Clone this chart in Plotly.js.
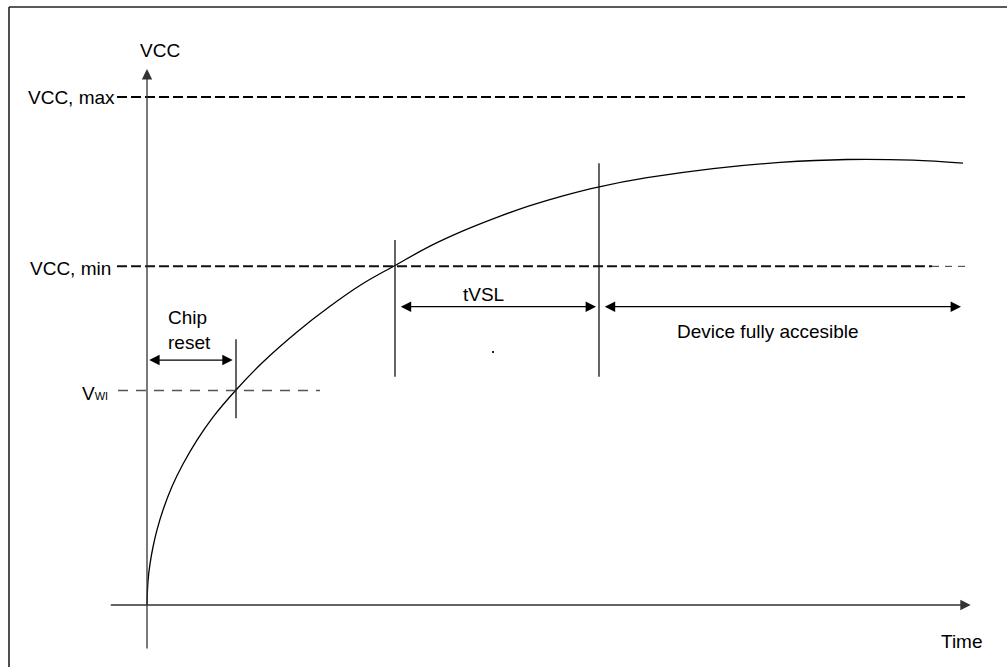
<!DOCTYPE html>
<html>
<head>
<meta charset="utf-8">
<script src="https://cdn.plot.ly/plotly-3.0.1.min.js"></script>
<style>html,body{margin:0;padding:0;background:#fff;}#chart{width:1007px;height:667px;}</style>
</head>
<body>
<div id="chart"></div>
<script>
// ---- data (time in arbitrary units, voltage in V) ----
const V_MAX = 3.6;
const V_MIN = 2.4;
const V_WI = 1.52;
const T_RESET = 0.89;
const T_VMIN = 2.48;
const T_FULL = 4.52;
const T_END = 8.14;

const curveT = [0, 0.01, 0.03, 0.06, 0.10, 0.16, 0.25, 0.36, 0.50, 0.66, 0.89, 1.16, 1.50, 1.83, 2.16, 2.48, 2.83, 3.16, 3.50, 3.83, 4.16, 4.51, 5.00, 5.66, 6.33, 7.00, 7.66, 8.16];
const curveV = [0, 0.169, 0.291, 0.411, 0.532, 0.673, 0.840, 0.999, 1.169, 1.332, 1.524, 1.722, 1.935, 2.117, 2.278, 2.406, 2.543, 2.651, 2.747, 2.830, 2.900, 2.962, 3.028, 3.093, 3.136, 3.157, 3.152, 3.131];

const levelLabels = ['VCC, max', 'VCC, min', 'V<span style="font-size:11px">WI</span>'];
const spanLabels = ['Chip<br>reset', 'tVSL', 'Device fully accesible'];
const axisLabels = ['VCC', 'Time'];
const dotT = [3.46];
const dotV = [1.793];

// ---- drawing ----
const FONT = {family: '"Liberation Sans", Arial, sans-serif', size: 19, color: '#000'};
const AX = '#333';

const traces = [
  {x: curveT, y: curveV, mode: 'lines', line: {color: '#000', width: 1.3, shape: 'spline', smoothing: 1}, hoverinfo: 'skip'},
  {x: dotT, y: dotV, mode: 'markers', marker: {symbol: 'square', size: 2, color: '#222'}, hoverinfo: 'skip'}
];

function hline(x0, x1, y, color, width, dash) {
  return {type: 'line', xref: 'x', yref: 'y', x0: x0, x1: x1, y0: y, y1: y, line: {color: color, width: width, dash: dash}};
}
function vline(x, y0, y1, color, width) {
  return {type: 'line', xref: 'x', yref: 'y', x0: x, x1: x, y0: y0, y1: y1, line: {color: color, width: width}};
}

const shapes = [
  // frame (left + top edges)
  {type: 'line', xref: 'paper', yref: 'paper', x0: 9/1007, x1: 9/1007, y0: 0, y1: 1 - 7/667, line: {color: '#222', width: 1.6}},
  {type: 'line', xref: 'paper', yref: 'paper', x0: 9/1007, x1: 1, y0: 1 - 7/667, y1: 1 - 7/667, line: {color: '#222', width: 1.6}},
  // level lines
  hline(-0.30, 8.18, V_MAX, '#000', 2, '10px,4px'),
  hline(-0.30, 7.85, V_MIN, '#111', 2, '10px,4px'),
  hline(7.85, 8.18, V_MIN, '#333', 1, '7px,6px'),
  hline(-0.29, 1.73, V_WI, '#555', 1.3, '10px,8px'),
  // event markers
  vline(T_RESET, 1.323, 1.883, '#111', 1.3),
  vline(T_VMIN, 1.618, 2.587, '#111', 1.3),
  vline(T_FULL, 1.618, 3.130, '#111', 1.3)
];

function arrow(x0, x1, y, both) {
  return {x: x1, y: y, ax: x0, ay: y, xref: 'x', yref: 'y', axref: 'x', ayref: 'y', text: '',
    showarrow: true, arrowhead: 2, startarrowhead: 2, arrowside: both ? 'end+start' : 'end',
    arrowsize: 1.6, startarrowsize: 1.6, arrowwidth: 1.3, arrowcolor: '#000', standoff: 0, startstandoff: 0};
}
function label(text, x, y, xanchor, extra) {
  return Object.assign({x: x, y: y, xref: 'x', yref: 'y', text: text, showarrow: false, xanchor: xanchor, yanchor: 'middle', font: FONT, align: 'left'}, extra || {});
}

const annotations = [
  // axes with arrowheads
  Object.assign(arrow(-0.377, 8.237, 0, false), {arrowcolor: AX}),
  {x: 0, y: 3.798, ax: 0, ay: -0.319, xref: 'x', yref: 'y', axref: 'x', ayref: 'y', text: '', showarrow: true,
   arrowhead: 2, arrowsize: 1.6, arrowwidth: 1.3, arrowcolor: AX, standoff: 0},
  // span arrows
  arrow(0.007, 0.857, 1.736, true),
  arrow(2.523, 4.49, 2.114, true),
  arrow(4.563, 8.14, 2.114, true),
  // text
  label(axisLabels[0], 0.13, 3.933, 'center'),
  label(axisLabels[1], 8.147, -0.262, 'center'),
  label(levelLabels[0], -0.30, V_MAX, 'right'),
  label(levelLabels[1], -0.337, 2.388, 'right'),
  label(levelLabels[2], -0.37, 1.50, 'right'),
  label(spanLabels[0], 0.19, 1.949, 'left'),
  label(spanLabels[1], 3.365, 2.197, 'center'),
  label(spanLabels[2], 6.21, 1.935, 'center')
];

const layout = {
  width: 1007, height: 667,
  margin: {l: 0, r: 0, t: 0, b: 0},
  paper_bgcolor: '#fff', plot_bgcolor: '#fff',
  showlegend: false,
  xaxis: {range: [-1.47, 8.60], visible: false, fixedrange: true},
  yaxis: {range: [-0.4394, 4.2874], visible: false, fixedrange: true},
  shapes: shapes,
  annotations: annotations,
  font: FONT
};

Plotly.newPlot('chart', traces, layout, {displayModeBar: false, staticPlot: true});
</script>
</body>
</html>
